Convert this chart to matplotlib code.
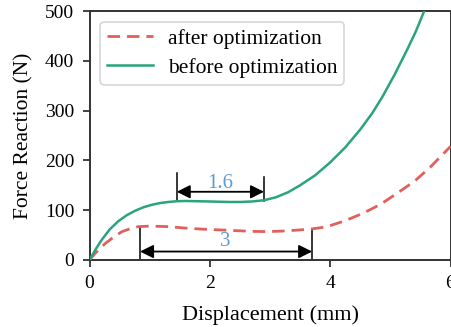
import matplotlib.pyplot as plt

# values
disp_before = [0.0, 0.1, 0.2, 0.34, 0.48, 0.62, 0.76, 0.9, 1.04, 1.18, 1.31, 1.45, 1.59, 1.8, 2.0, 2.15,
               2.34, 2.5, 2.7, 2.9, 3.1, 3.3, 3.5, 3.75, 4.0, 4.25, 4.5, 4.7, 4.86, 5.07, 5.27, 5.42, 5.56]
force_before = [0, 21, 40, 62, 78, 90, 99, 106, 111, 114.5, 116.5, 118, 118.5, 118, 117.5, 117,
                116.5, 116.5, 117.5, 120, 126, 136, 150, 170, 196, 226, 262, 295, 326, 372, 420, 458, 499]

disp_after = [0.0, 0.1, 0.26, 0.4, 0.54, 0.68, 0.81, 1.0, 1.31, 1.6, 1.87, 2.15, 2.43, 2.7, 2.95,
              3.2, 3.45, 3.67, 3.85, 4.0, 4.25, 4.55, 4.84, 5.1, 5.4, 5.66, 6.0]
force_after = [0, 14, 33, 46, 57, 63, 67, 68, 67, 64, 62, 60.5, 59, 57.5, 57, 58, 60, 62, 65, 69,
               79, 94, 112, 133, 158, 186, 228]

gap_before = (1.45, 2.9)
gap_after = (0.84, 3.7)

plt.rcParams['font.family'] = ['Liberation Serif', 'DejaVu Serif']

fig = plt.figure(figsize=(4.51, 3.27), dpi=100)
ax = fig.add_axes([89.5 / 451, 67 / 327, 361 / 451, 249 / 327])

ax.plot(disp_after, force_after, '--', color='#e2605c', lw=2.0, dashes=(4.5, 2.5),
        label='after optimization', zorder=3)
ax.plot(disp_before, force_before, '-', color='#29a47c', lw=1.8,
        label='before optimization', zorder=3)

ax.set_xlim(0, 6)
ax.set_ylim(0, 500)
ax.set_xticks([0, 2, 4, 6])
ax.set_yticks([0, 100, 200, 300, 400, 500])
ax.tick_params(labelsize=14, length=5, width=1.3, color='#333333', pad=6)
for sp in ax.spines.values():
    sp.set_linewidth(1.4)
    sp.set_color('#333333')

ax.set_xlabel('Displacement (mm)', fontsize=16, labelpad=9)
ax.set_ylabel('Force Reaction (N)', fontsize=15.5, labelpad=8)

leg = ax.legend(loc='upper left', fontsize=15.5, frameon=True, fancybox=True,
                handlelength=2.1, handletextpad=0.7, borderpad=0.33, labelspacing=0.4,
                borderaxespad=0.5)
leg.get_frame().set_edgecolor('#cccccc')
leg.get_frame().set_linewidth(1.2)

# dimension lines
arr = dict(arrowstyle='<|-|>', color='black', lw=1.3, mutation_scale=20,
           shrinkA=0, shrinkB=0)
ax.annotate('', xy=(gap_before[0], 137), xytext=(gap_before[1], 137), arrowprops=arr)
ax.plot([gap_before[0], gap_before[0]], [120, 174], color='black', lw=1.1)
ax.plot([gap_before[1], gap_before[1]], [119, 167], color='black', lw=1.1)
ax.text(2.18, 154, '1.6', color='#5b9bd5', fontsize=15, ha='center', va='center')

ax.annotate('', xy=(gap_after[0], 17), xytext=(gap_after[1], 17), arrowprops=arr)
ax.plot([gap_after[0], gap_after[0]], [3, 67], color='black', lw=1.1)
ax.plot([gap_after[1], gap_after[1]], [3, 62], color='black', lw=1.1)
ax.text(2.25, 37, '3', color='#5b9bd5', fontsize=15, ha='center', va='center')

fig.savefig('out.png', dpi=100)
